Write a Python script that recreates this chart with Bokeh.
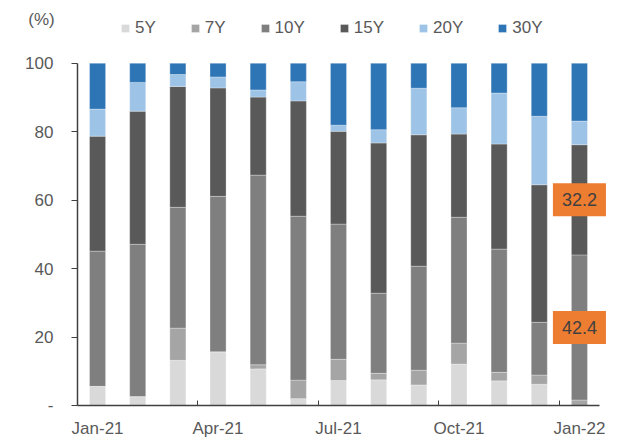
from bokeh.plotting import figure
from bokeh.models import ColumnDataSource, FixedTicker, Legend, LegendItem, Label, Range1d
from bokeh.embed import file_html
from bokeh.resources import INLINE

months = ["Jan-21", "Feb-21", "Mar-21", "Apr-21", "May-21", "Jun-21", "Jul-21",
          "Aug-21", "Sep-21", "Oct-21", "Nov-21", "Dec-21", "Jan-22"]
tenors = ["5Y", "7Y", "10Y", "15Y", "20Y", "30Y"]

y5Y = [5.6, 2.6, 13.2, 15.7, 10.7, 2.0, 7.3, 7.5, 6.0, 12.1, 7.2, 6.2, 0.0]
y7Y = [0.0, 0.0, 9.4, 0.0, 1.2, 5.4, 6.2, 1.9, 4.3, 6.1, 2.5, 2.7, 1.6]
y10Y = [39.5, 44.5, 35.3, 45.4, 55.4, 47.9, 39.5, 23.4, 30.4, 36.8, 36.0, 15.4, 42.4]
y15Y = [33.6, 38.9, 35.3, 31.7, 22.8, 33.7, 27.1, 43.9, 38.4, 24.3, 30.7, 40.2, 32.2]
y20Y = [7.9, 8.4, 3.5, 3.2, 2.1, 5.6, 1.8, 3.9, 13.6, 7.7, 14.9, 20.0, 6.9]
y30Y = [13.4, 5.6, 3.3, 4.0, 7.8, 5.4, 18.1, 19.4, 7.3, 13.0, 8.7, 15.5, 16.9]

y_ticks = [0, 20, 40, 60, 80, 100]
x_label_idx = [0, 3, 6, 9, 12]

colors = ["#D9D9D9", "#A5A5A5", "#7F7F7F", "#595959", "#9DC3E6", "#2E75B6"]
FONT = "Liberation Sans"
TXT = "#595959"

n = len(months)
src = ColumnDataSource(dict(x=list(range(n)), **{"5Y": y5Y, "7Y": y7Y, "10Y": y10Y,
                                                 "15Y": y15Y, "20Y": y20Y, "30Y": y30Y}))

# frame spans almost the whole canvas so that legend, unit label and tick labels stay inside it;
# both axes sit at fixed positions and are bounded to the data area
p = figure(width=629, height=440,
           x_range=Range1d(-2.168, n - 0.5 + 0.174), y_range=Range1d(-10.226, 117.16),
           output_backend="svg", toolbar_location=None,
           min_border_left=10, min_border_right=23, min_border_top=4, min_border_bottom=0)
p.outline_line_color = None
p.grid.visible = False

rs = p.vbar_stack(tenors, x="x", width=0.4, source=src, color=colors,
                  line_color="white", line_width=0.6, line_alpha=0.5)

# axes
p.xaxis.fixed_location = 0
p.xaxis.bounds = (-0.5, n - 0.5)
p.xaxis.ticker = FixedTicker(ticks=x_label_idx, minor_ticks=[i - 0.5 for i in x_label_idx])
p.xaxis.major_label_overrides = {i: months[i] for i in x_label_idx}
p.xaxis.major_tick_in = 0
p.xaxis.major_tick_out = 0
p.xaxis.minor_tick_in = 5
p.xaxis.minor_tick_out = 0
p.xaxis.major_label_standoff = 14

p.yaxis.fixed_location = -0.5
p.yaxis.bounds = (0, 100)
p.yaxis.ticker = FixedTicker(ticks=y_ticks, minor_ticks=[])
p.yaxis.major_label_overrides = {0: "-"}
p.yaxis.major_tick_in = 0
p.yaxis.major_tick_out = 6
p.yaxis.major_label_standoff = 18

for ax in (p.xaxis[0], p.yaxis[0]):
    ax.axis_line_color = "#404040"
    ax.axis_line_width = 1.5
    ax.major_tick_line_color = "#404040"
    ax.minor_tick_line_color = "#404040"
    ax.major_label_text_font = FONT
    ax.major_label_text_font_size = "17px"
    ax.major_label_text_color = TXT

# legend inside the frame, above the bars
legend = Legend(items=[LegendItem(label=t, renderers=[r]) for t, r in zip(tenors, rs)],
                orientation="horizontal", location=(110, 402),
                glyph_width=10, glyph_height=10, label_standoff=5, spacing=34,
                padding=0, margin=0, border_line_color=None, background_fill_alpha=0,
                label_text_font=FONT, label_text_font_size="17px", label_text_color=TXT,
                label_height=20)
p.add_layout(legend, "center")

p.add_layout(Label(x=31, y=421, x_units="screen", y_units="screen", text="(%)",
                   text_align="center", text_baseline="middle", text_font=FONT,
                   text_font_size="17px", text_color=TXT))

# data labels for last bar (10Y and 15Y)
last = n - 1
base10 = y5Y[last] + y7Y[last]
for val, yc in [(y15Y[last], base10 + y10Y[last] + y15Y[last] / 2), (y10Y[last], base10 + y10Y[last] / 2)]:
    p.add_layout(Label(x=last, y=yc, text=f"{val:.1f}", text_align="center", text_baseline="middle",
                       text_font=FONT, text_font_size="18px", text_color="#404040",
                       background_fill_color="#ED7D31", padding=(9, 10)))

open("out.html", "w").write(file_html(p, INLINE))
